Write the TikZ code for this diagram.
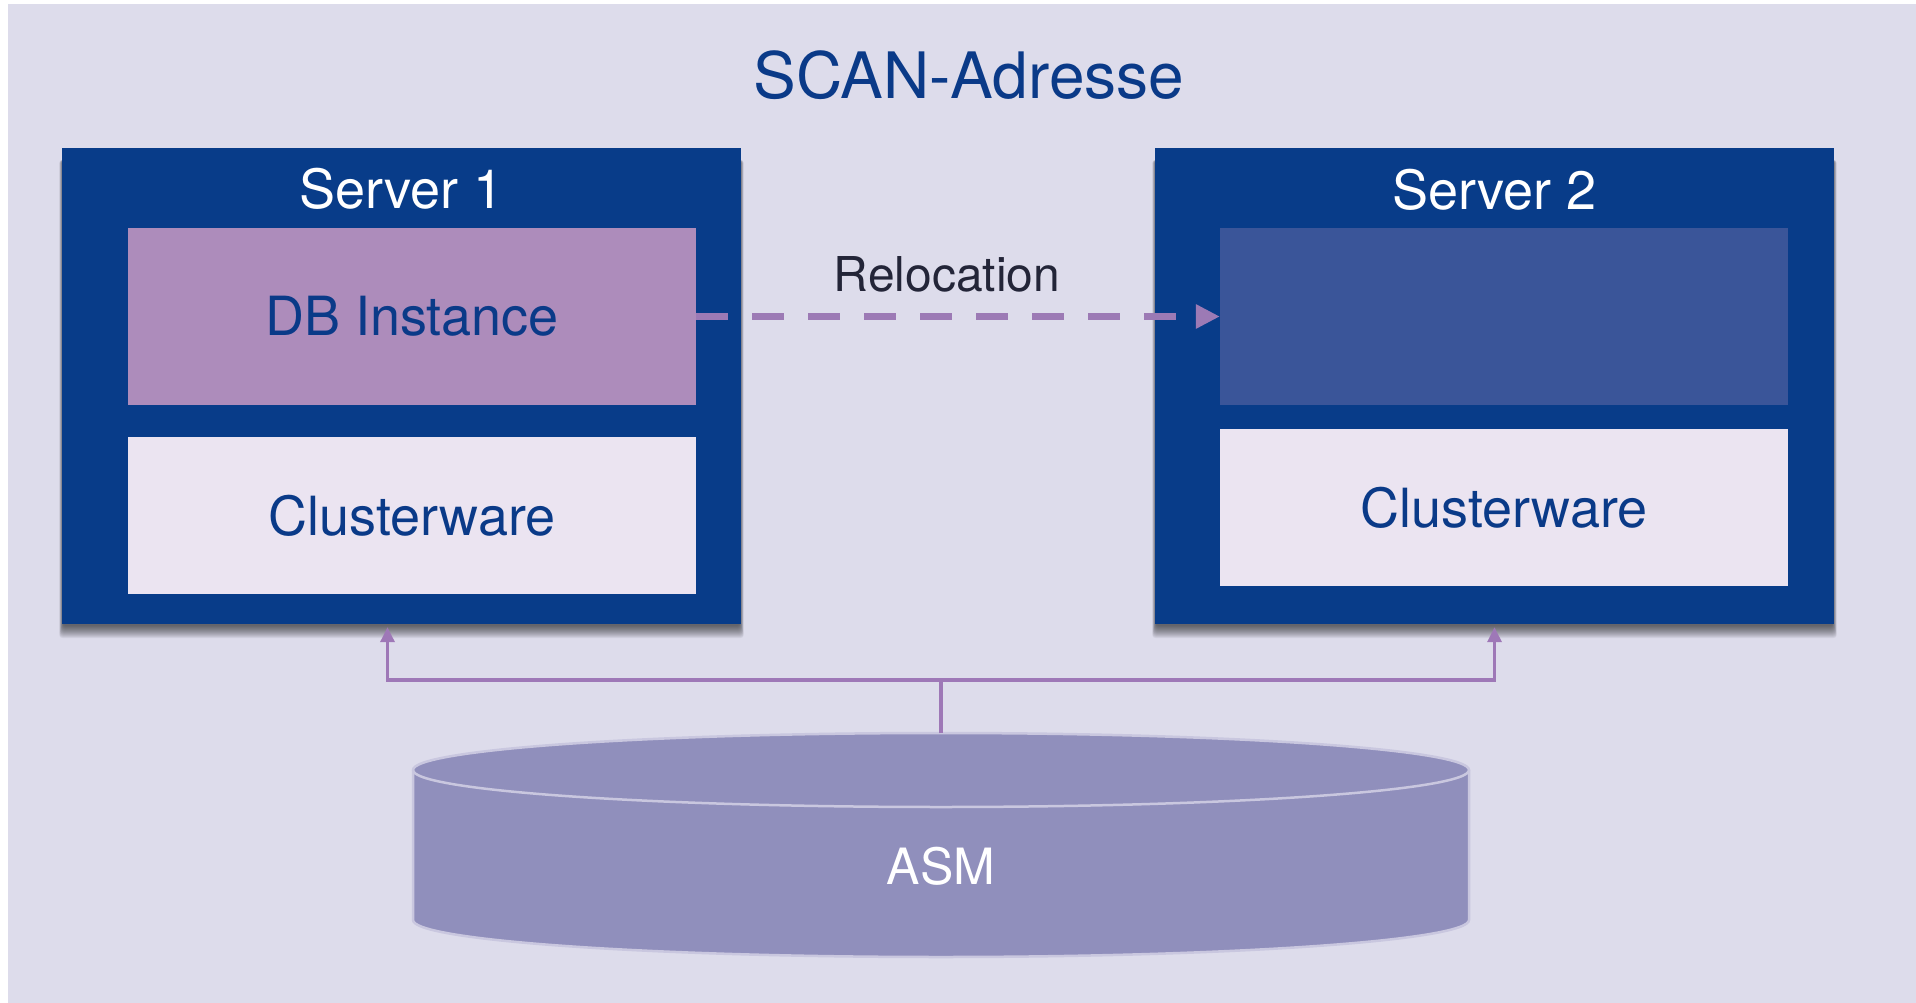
\documentclass[tikz,border=0pt]{standalone}
\usepackage{fontspec}
\setmainfont{TeX Gyre Heros}
\usetikzlibrary{arrows.meta}
\definecolor{bgcol}{HTML}{DDDCEB}
\definecolor{srvblue}{HTML}{083C89}
\definecolor{txtblue}{HTML}{0A3A88}
\definecolor{dbfill}{HTML}{AD8CBB}
\definecolor{cwfill}{HTML}{EBE4F1}
\definecolor{emptyfill}{HTML}{3A5599}
\definecolor{cylfill}{HTML}{908FBC}
\definecolor{cylline}{HTML}{C9C7DF}
\definecolor{conncol}{HTML}{9E78B7}
\definecolor{relocol}{HTML}{9C7AB5}
\definecolor{darktxt}{HTML}{232538}
\tikzset{
  serverbox/.style={fill=srvblue, draw=none, minimum width=679pt, minimum height=476pt, inner sep=0pt},
  dbbox/.style={fill=dbfill, draw=none, minimum width=568pt, minimum height=177pt, inner sep=0pt, text=txtblue, font=\fontsize{54}{60}\selectfont},
  emptybox/.style={fill=emptyfill, draw=none, minimum width=568pt, minimum height=177pt, inner sep=0pt},
  cwbox/.style={fill=cwfill, draw=none, minimum width=568pt, minimum height=157pt, inner sep=0pt, text=txtblue, font=\fontsize{54}{60}\selectfont},
  srvlabel/.style={text=white, inner sep=0pt, font=\fontsize{54}{60}\selectfont},
  titlelabel/.style={text=txtblue, inner sep=0pt, font=\fontsize{64}{70}\selectfont},
  relolabel/.style={text=darktxt, inner sep=0pt, font=\fontsize{48}{54}\selectfont},
  asmlabel/.style={text=white, inner sep=0pt, font=\fontsize{50}{56}\selectfont},
  relo/.style={draw=relocol, line width=7pt, dash pattern=on 32pt off 24pt, -{Triangle[length=24pt,width=23pt]}},
  conn/.style={draw=conncol, line width=3.3pt, -{Triangle[length=15pt,width=14pt]}, shorten >=3pt},
  shadowlayer/.style={fill=black, opacity=0.055}
}
\begin{document}
\begin{tikzpicture}[x=1pt,y=-1pt]
\useasboundingbox (0,0) rectangle (1916,1003);
\fill[white] (0,0) rectangle (1916,1003);
\fill[bgcol] (8,4) rectangle (1916,1003);

% shadows of the server boxes
\foreach \k in {1,...,13}{
  \fill[shadowlayer, rounded corners=3pt] (59+\k*0.3,160) rectangle (744-\k*0.3,639-\k);
  \fill[shadowlayer, rounded corners=3pt] (1152+\k*0.3,160) rectangle (1837-\k*0.3,639-\k);
}

% title
\node[titlelabel] (title) at (969,75) {SCAN-Adresse};

% server 1
\node[serverbox] (s1) at (401.5,386) {};
\node[srvlabel] (s1lbl) at (401.5,189) {Server 1};
\node[dbbox] (db) at (412,316.5) {DB Instance};
\node[cwbox] (cw1) at (412,515.5) {Clusterware};

% server 2
\node[serverbox] (s2) at (1494.5,386) {};
\node[srvlabel] (s2lbl) at (1494.5,190) {Server 2};
\node[emptybox] (inst2) at (1504,316.5) {};
\node[cwbox] (cw2) at (1504,507.5) {Clusterware};

% relocation
\node[relolabel] (reloc) at (947,274) {Relocation};
\draw[relo] (db.east) -- (inst2.west);

% ASM cylinder
\filldraw[fill=cylfill, draw=cylline, line width=2.5pt]
  (413,770) -- (413,920) arc[start angle=180, end angle=0, x radius=528, y radius=37]
  -- (1469,770) arc[start angle=0, end angle=-180, x radius=528, y radius=37] -- cycle;
\draw[cylline, line width=2.5pt] (413,770) arc[start angle=180, end angle=0, x radius=528, y radius=37];
\node[asmlabel] (asm) at (941,866) {ASM};

% connectors
\coordinate (asmtop) at (941,733);
\coordinate (junc) at (941,680);
\draw[conn] (asmtop) -- (junc) -| ([xshift=-14pt]s1.south);
\draw[conn] (asmtop) -- (junc) -| (s2.south);
\end{tikzpicture}
\end{document}
